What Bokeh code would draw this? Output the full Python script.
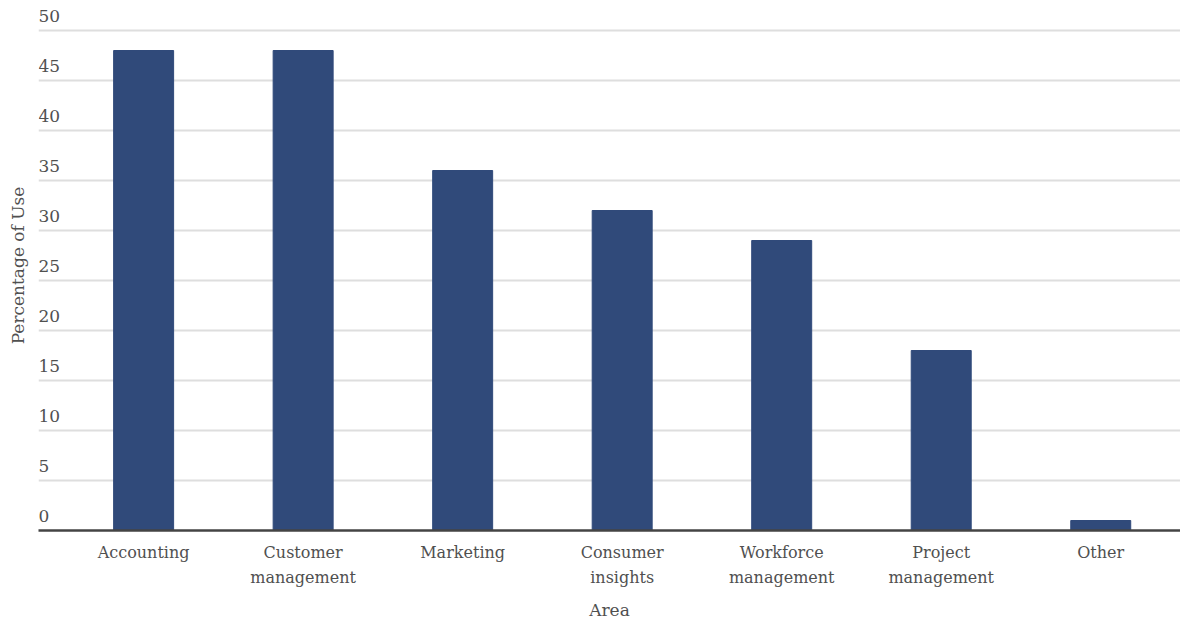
from bokeh.plotting import figure
from bokeh.models import ColumnDataSource, Range1d, FixedTicker
from bokeh.core.properties import value
from bokeh.embed import file_html
from bokeh.resources import INLINE

categories = ["Accounting", "Customer\nmanagement", "Marketing", "Consumer\ninsights",
              "Workforce\nmanagement", "Project\nmanagement", "Other"]
values = [48, 48, 36, 32, 29, 18, 1]
y_ticks = [5, 10, 15, 20, 25, 30, 35, 40, 45, 50]
tick_labels = [str(t) for t in [0] + y_ticks]

FONT = "DejaVu Serif"
TXT = "#505050"

xs = list(range(len(categories)))
src = ColumnDataSource(dict(x=xs, top=values))

p = figure(width=1180, height=622, output_backend="svg", toolbar_location=None,
           x_range=Range1d(-0.659, 6.5), y_range=Range1d(0, 53),
           min_border_left=38, min_border_right=0, min_border_top=0, min_border_bottom=0)
p.outline_line_color = None
p.background_fill_color = "white"
p.border_fill_color = "white"

p.vbar(x="x", top="top", width=0.376, bottom=0, source=src,
       fill_color="#304a7a", line_color="#304a7a")

# y gridlines
p.ygrid.ticker = FixedTicker(ticks=y_ticks)
p.ygrid.grid_line_color = "#dedede"
p.ygrid.grid_line_width = 2
p.xgrid.visible = False

# y axis: only its title is shown
ya = p.yaxis[0]
ya.ticker = FixedTicker(ticks=[])
ya.major_label_text_font_size = "0px"
ya.major_tick_line_color = None
ya.minor_tick_line_color = None
ya.axis_line_color = None
ya.major_label_standoff = 0
ya.axis_label = "Percentage of Use"
ya.axis_label_text_font = FONT
ya.axis_label_text_font_size = "17px"
ya.axis_label_text_font_style = "normal"
ya.axis_label_text_color = TXT
ya.axis_label_standoff = 11

# y tick labels above gridlines
lab_src = ColumnDataSource(dict(x=[-0.659] * len(tick_labels), y=[0] + y_ticks, t=tick_labels))
p.text(x="x", y="y", text="t", source=lab_src, text_font=value(FONT), text_font_size="17px",
       text_color=TXT, text_baseline="bottom", text_align="left", y_offset=-9)

# x axis
xa = p.xaxis[0]
xa.ticker = FixedTicker(ticks=xs)
xa.major_label_overrides = {i: c for i, c in enumerate(categories)}
xa.major_tick_line_color = None
xa.minor_tick_line_color = None
xa.axis_line_color = "#444444"
xa.axis_line_width = 2.5
xa.major_label_text_font = FONT
xa.major_label_text_font_size = "16px"
xa.major_label_text_line_height = 1.32
xa.major_label_text_color = TXT
xa.major_label_standoff = 6
xa.axis_label = "Area"
xa.axis_label_text_font = FONT
xa.axis_label_text_font_size = "17px"
xa.axis_label_text_font_style = "normal"
xa.axis_label_text_color = TXT
xa.axis_label_standoff = 10

open("out.html", "w").write(file_html(p, INLINE))
